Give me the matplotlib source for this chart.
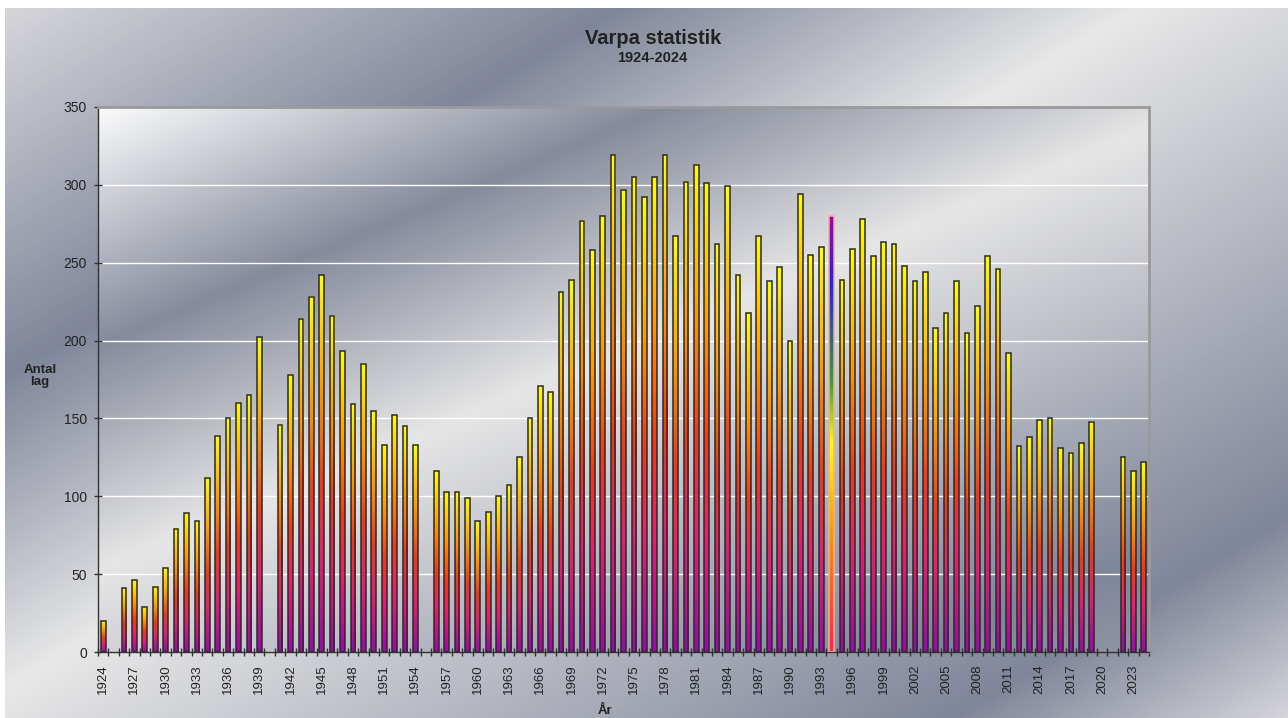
import numpy as np
import matplotlib.pyplot as plt
from matplotlib.colors import LinearSegmentedColormap, to_rgb

plt.rcParams['font.family'] = ['Liberation Sans', 'DejaVu Sans']

years = list(range(1924, 2025))
nan = np.nan
antal = [20, nan, 41, 46, 29, 42, 54, 79, 89, 84,
         112, 139, 150, 160, 165, 202, nan, 146, 178, 214,
         228, 242, 216, 193, 159, 185, 155, 133, 152, 145,
         133, nan, 116, 103, 103, 99, 84, 90, 100, 107,
         125, 150, 171, 167, 231, 239, 277, 258, 280, 319,
         297, 305, 292, 305, 319, 267, 302, 313, 301, 262,
         299, 242, 218, 267, 238, 247, 200, 294, 255, 260,
         280, 239, 259, 278, 254, 263, 262, 248, 238, 244,
         208, 218, 238, 205, 222, 254, 246, 192, 132, 138,
         149, 150, 131, 128, 134, 148, nan, nan, 125, 116,
         122]
special_year = 1994
label_years = years[::3]
yticks = list(range(0, 351, 50))

W, H = 1288, 718
fig = plt.figure(figsize=(W / 100, H / 100), dpi=100)
fig.patch.set_facecolor('white')


def stops_cmap(name, stops):
    return LinearSegmentedColormap.from_list(name, [(p, to_rgb(c)) for p, c in stops])


# metallic background of the whole chart area
x0, y0 = 5, 8
bg = fig.add_axes([x0 / W, 0, 1 - x0 / W, 1 - y0 / H], zorder=-10)
bg.set_axis_off()
xx, yy = np.meshgrid(np.arange(x0, W), np.arange(y0, H))
t = (0.6 * xx + yy) / 1500.0
bg_cmap = stops_cmap('bg', [(0, '#d8d8dc'), (0.25, '#80869a'), (0.46, '#e8e8e8'),
                            (0.86, '#80869a'), (1.0, '#d8d8dc')])
bg.imshow(t, cmap=bg_cmap, vmin=0, vmax=1, aspect='auto', interpolation='bilinear')

# plot area
L, R, T, B = 98, 1149, 107, 652
pos = [L / W, (H - B) / H, (R - L) / W, (B - T) / H]
pbg = fig.add_axes(pos, zorder=-5)
pbg.set_axis_off()
xx, yy = np.meshgrid(np.arange(L, R), np.arange(T, B))
t = (0.42 * xx + yy - 147) / (1134 - 147)
pa_cmap = stops_cmap('pa', [(0, '#fbfbfb'), (0.24, '#868b9c'), (0.47, '#e6e6e6'),
                            (0.90, '#80869a'), (1.0, '#9095a5')])
pbg.imshow(t, cmap=pa_cmap, vmin=0, vmax=1, aspect='auto', interpolation='bilinear')

ax = fig.add_axes(pos)
ax.set_facecolor('none')

bar_cmap = stops_cmap('bar', [(0, '#9a0aa8'), (0.25, '#e8206a'), (0.45, '#f03a18'),
                              (0.7, '#ff9a00'), (1.0, '#ffff00')])
odd_cmap = stops_cmap('odd', [(0, '#ff2060'), (0.25, '#ff8a00'), (0.48, '#ffff00'),
                              (0.62, '#30a040'), (0.85, '#2020ff'), (1.0, '#a000c0')])
grad = np.linspace(0, 1, 256)[::-1].reshape(-1, 1)
bw = 0.45

for g in yticks[1:-1]:
    ax.axhline(g, color='white', linewidth=1.0, zorder=1)

for yr, v in zip(years, antal):
    if np.isnan(v):
        continue
    cm = odd_cmap if yr == special_year else bar_cmap
    ax.imshow(grad, cmap=cm, extent=(yr - bw / 2, yr + bw / 2, 0, v),
              aspect='auto', interpolation='bilinear', zorder=3)
    ec = '#f4b183' if yr == special_year else '#2a2a2a'
    ax.bar(yr, v, width=bw, fill=False, edgecolor=ec, linewidth=1.1, zorder=4)

ax.set_xlim(1923.5, 2024.5)
ax.set_ylim(0, 350)

ax.set_yticks(yticks)
ax.set_xticks(label_years)
ax.set_xticks(np.arange(1923.5, 2025, 1), minor=True)
ax.set_xticklabels([str(y) for y in label_years], rotation=90)
ax.tick_params(axis='x', which='major', length=0, pad=9, labelsize=9.5, labelcolor='#222222')
ax.tick_params(axis='x', which='minor', direction='inout', length=6, color='#333333', width=1)
ax.tick_params(axis='y', direction='inout', length=6, color='#333333', width=1,
               pad=5, labelsize=10, labelcolor='#222222')

for side in ['left', 'bottom']:
    ax.spines[side].set_color('#333333')
    ax.spines[side].set_linewidth(1.0)
for side in ['top', 'right']:
    ax.spines[side].set_color('#9a9a9a')
    ax.spines[side].set_linewidth(2.0)

fig.text(653 / W, 1 - 38 / H, 'Varpa statistik', ha='center', va='center',
         fontsize=14.5, fontweight='bold', color='#222222')
fig.text(652 / W, 1 - 58 / H, '1924-2024', ha='center', va='center',
         fontsize=10.5, fontweight='bold', color='#222222')
fig.text(40 / W, 1 - 376 / H, 'Antal\nlag', ha='center', va='center',
         fontsize=9.5, fontweight='bold', color='#222222', linespacing=1.1)
fig.text(605 / W, 1 - 711 / H, 'År', ha='center', va='center',
         fontsize=9.5, fontweight='bold', color='#222222')

fig.savefig('out.png', dpi=100)
